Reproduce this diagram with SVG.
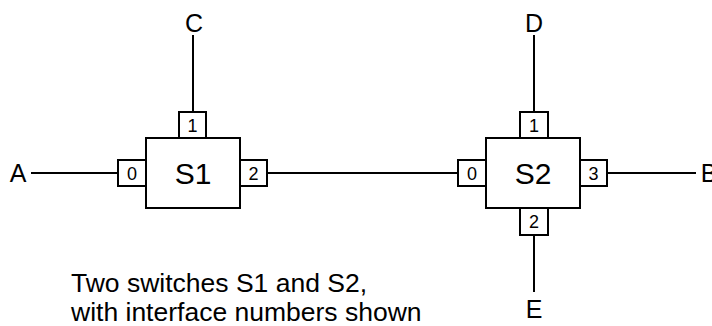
<svg xmlns="http://www.w3.org/2000/svg" width="712" height="326" viewBox="0 0 712 326">
<style>
.box{fill:#fff;stroke:#000;stroke-width:2}
.ln{stroke:#000;stroke-width:2;fill:none}
text{font-family:"Liberation Sans",Arial,sans-serif;fill:#000}
.big{font-size:30px;text-anchor:middle}
.port{font-size:18px;text-anchor:middle}
.end{font-size:25px;text-anchor:middle}
.cap{font-size:26.5px}
</style>
<rect width="712" height="326" fill="#fff"/>
<g id="connectors">
<line class="ln" x1="31" y1="173" x2="118" y2="173"/>
<line class="ln" x1="193" y1="35" x2="193" y2="112"/>
<line class="ln" x1="267" y1="173" x2="458" y2="173"/>
<line class="ln" x1="534" y1="35" x2="534" y2="112"/>
<line class="ln" x1="607" y1="173" x2="696" y2="173"/>
<line class="ln" x1="534" y1="235" x2="534" y2="292"/>
</g>
<g id="S1">
<rect class="box" x="146" y="138" width="94" height="70"/>
<text class="big" x="193" y="184">S1</text>
</g>
<g id="S1-p0"><rect class="box" x="118" y="160" width="28" height="26"/><text class="port" x="132" y="180">0</text></g>
<g id="S1-p1"><rect class="box" x="179" y="112" width="27" height="26"/><text class="port" x="192.5" y="132">1</text></g>
<g id="S1-p2"><rect class="box" x="240" y="160" width="27" height="26"/><text class="port" x="253.5" y="180">2</text></g>
<g id="S2">
<rect class="box" x="486" y="138" width="94" height="70"/>
<text class="big" x="533" y="184">S2</text>
</g>
<g id="S2-p0"><rect class="box" x="458" y="160" width="28" height="26"/><text class="port" x="472" y="180">0</text></g>
<g id="S2-p1"><rect class="box" x="520" y="112" width="28" height="26"/><text class="port" x="534" y="132">1</text></g>
<g id="S2-p2"><rect class="box" x="520" y="208" width="28" height="27"/><text class="port" x="534" y="228">2</text></g>
<g id="S2-p3"><rect class="box" x="580" y="160" width="27" height="26"/><text class="port" x="593.5" y="180">3</text></g>
<g id="A"><text class="end" x="18" y="182">A</text></g>
<g id="B"><text class="end" x="709" y="182">B</text></g>
<g id="C"><text class="end" x="194" y="32">C</text></g>
<g id="D"><text class="end" x="534" y="32">D</text></g>
<g id="E"><text class="end" x="534" y="318">E</text></g>
<g id="caption">
<text class="cap" x="71" y="292">Two switches S1 and S2,</text>
<text class="cap" x="71" y="321">with interface numbers shown</text>
</g>
</svg>
